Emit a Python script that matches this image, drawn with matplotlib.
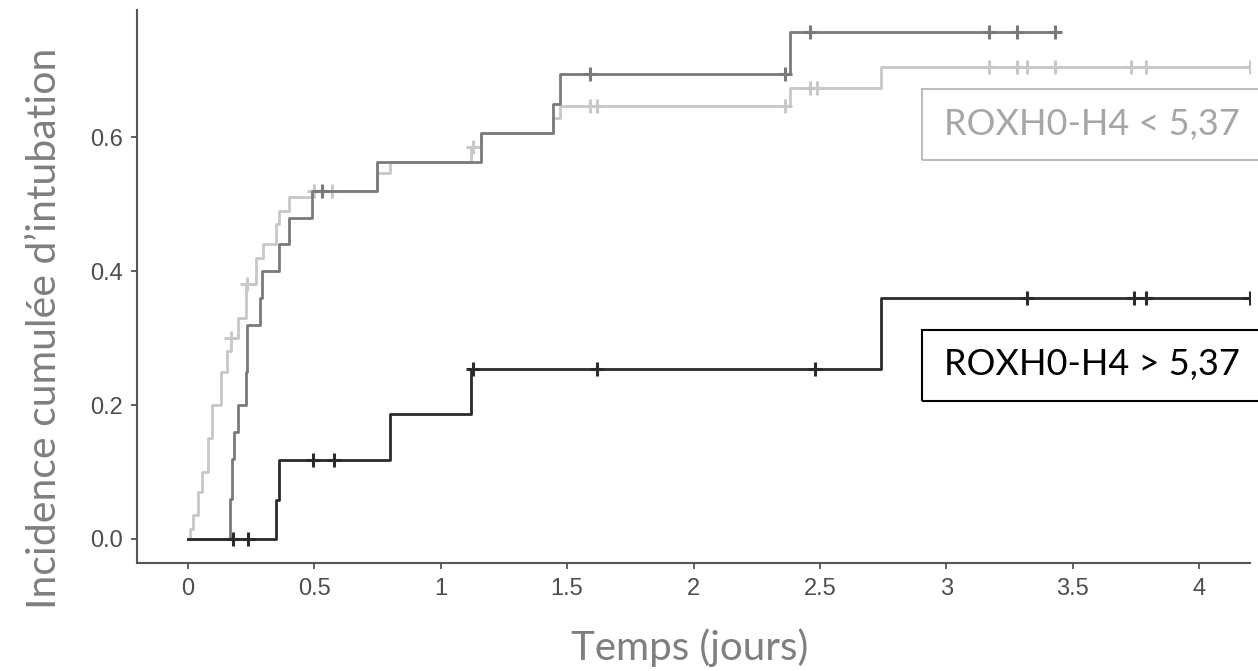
import numpy as np
import matplotlib
matplotlib.use("Agg")
import matplotlib.pyplot as plt
from matplotlib.patches import Rectangle

# temps (jours) / incidence cumulee
light_t = [0, 0.008, 0.02, 0.04, 0.055, 0.079, 0.095, 0.134, 0.154, 0.17, 0.2, 0.23, 0.27,
           0.3, 0.35, 0.36, 0.40, 0.49, 0.747, 0.80, 1.12, 1.16, 1.443, 1.474, 2.38, 2.74, 4.2]
light_y = [0, 0.015, 0.035, 0.07, 0.1, 0.15, 0.2, 0.25, 0.28, 0.3, 0.33, 0.38, 0.42,
           0.44, 0.47, 0.49, 0.51, 0.52, 0.546, 0.563, 0.585, 0.607, 0.628, 0.646, 0.674, 0.705, 0.705]
light_cens = [0.17, 0.233, 0.50, 0.57, 1.13, 1.59, 1.62, 2.36, 2.46, 2.49,
              3.17, 3.28, 3.32, 3.43, 3.73, 3.79, 4.2]

mid_t = [0, 0.166, 0.175, 0.185, 0.2, 0.23, 0.235, 0.285, 0.295, 0.36, 0.40, 0.49,
         0.75, 1.16, 1.443, 1.474, 2.38, 3.43]
mid_y = [0, 0.06, 0.12, 0.16, 0.2, 0.25, 0.32, 0.36, 0.40, 0.44, 0.48, 0.52,
         0.563, 0.607, 0.65, 0.695, 0.757, 0.757]
mid_cens = [0.53, 1.59, 2.36, 2.46, 3.17, 3.28, 3.43]

dark_t = [0, 0.348, 0.36, 0.80, 1.12, 2.74, 4.2]
dark_y = [0, 0.058, 0.118, 0.187, 0.254, 0.36, 0.36]
dark_cens = [0.18, 0.24, 0.494, 0.577, 1.13, 1.62, 2.48, 3.32, 3.74, 3.79, 4.2]

x_ticks = [0, 0.5, 1, 1.5, 2, 2.5, 3, 3.5, 4]
x_tick_labels = ["0", "0.5", "1", "1.5", "2", "2.5", "3", "3.5", "4"]
y_ticks = [0.0, 0.2, 0.4, 0.6]
y_tick_labels = ["0.0", "0.2", "0.4", "0.6"]


def at(t, y, c):
    # valeur de la courbe en escalier au temps de censure
    idx = np.searchsorted(t, c, side="right") - 1
    return np.array(y)[idx]


fig = plt.figure(figsize=(12.58, 6.71), dpi=100)
ax = fig.add_axes([137 / 1258, 1 - 563 / 671, (1250 - 137) / 1258, (563 - 10) / 671])

curves = [
    (light_t, light_y, light_cens, "#c8c8c8"),
    (mid_t, mid_y, mid_cens, "#7a7a7a"),
    (dark_t, dark_y, dark_cens, "#2b2b2b"),
]
for t, y, cens, col in curves:
    ax.step(t, y, where="post", color=col, lw=2.0)
    ax.plot(cens, at(t, y, cens), ls="none", marker="+", ms=10, mew=2.2, color=col)

ax.set_xlim(-0.2, 4.2)
ax.set_ylim(-0.036, 0.79)
ax.set_xticks(x_ticks)
ax.set_xticklabels(x_tick_labels)
ax.set_yticks(y_ticks)
ax.set_yticklabels(y_tick_labels)
ax.spines["top"].set_visible(False)
ax.spines["right"].set_visible(False)
for s in ["left", "bottom"]:
    ax.spines[s].set_color("#555555")
    ax.spines[s].set_linewidth(1.5)
ax.tick_params(axis="both", length=4, width=1.3, color="#555555", labelcolor="#4d4d4d",
               labelsize=17, labelfontfamily="Liberation Sans")
ax.tick_params(axis="x", pad=7)
ax.tick_params(axis="y", pad=6)

fig.text(45 / 1258, 1 - 328 / 671, "Incidence cumulée d’intubation", rotation=90,
         ha="center", va="center", fontsize=29.5, color="#7f7f7f", family="Lato")
fig.text(690 / 1258, 1 - 648 / 671, "Temps (jours)", ha="center", va="center",
         fontsize=29, color="#7f7f7f", family="Lato")

# encadres de legende
fig.patches.append(Rectangle((922 / 1258, 1 - 160 / 671), 0.5, 71 / 671, transform=fig.transFigure,
                             fill=False, ec="#bdbdbd", lw=1.5))
fig.text(944 / 1258, 1 - 124 / 671, "ROXH0-H4 < 5,37", ha="left", va="center",
         fontsize=26, color="#a6a6a6", family="Lato")
fig.patches.append(Rectangle((922 / 1258, 1 - 401 / 671), 0.5, 71 / 671, transform=fig.transFigure,
                             fill=False, ec="#000000", lw=1.5))
fig.text(944 / 1258, 1 - 365 / 671, "ROXH0-H4 > 5,37", ha="left", va="center",
         fontsize=26, color="#000000", family="Lato")

fig.savefig("out.png", dpi=100)
